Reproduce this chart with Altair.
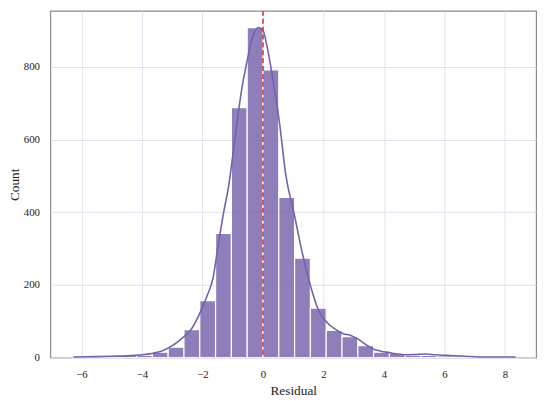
import altair as alt
import pandas as pd

# Histogram
bin_start = -6.27
bin_width = 0.5225
counts = [3, 4, 5, 6, 7, 15, 29, 77, 157, 342, 688, 908, 792, 441,
          274, 136, 75, 58, 33, 15, 12, 7, 6, 5, 4, 3, 2, 2]

# KDE curve points
kde_x = [-6.27, -5.5, -5.0, -4.5, -4.0, -3.6, -3.3, -3.0, -2.7, -2.4, -2.1,
         -1.85, -1.65, -1.5, -1.3, -1.14, -0.9, -0.7, -0.54, -0.35, -0.15,
         0.0, 0.15, 0.3, 0.54, 0.76, 1.03, 1.3, 1.57, 1.85, 2.1, 2.4, 2.66,
         2.88, 3.15, 3.4, 3.64, 3.9, 4.18, 4.45, 4.72, 5.05, 5.38, 5.7, 6.03,
         6.68, 7.44, 8.36]
kde_y = [2, 3, 4, 5, 8, 13, 20, 33, 52, 75, 120,
         170, 220, 300, 400, 470, 620, 740, 810, 880, 908,
         900, 850, 780, 650, 500, 396, 288, 198, 128, 98, 78, 66,
         62, 51, 36, 24, 18, 14, 10, 8, 9, 10, 8, 6.5,
         4, 2, 2]

x_ticks = [-6, -4, -2, 0, 2, 4, 6, 8]
y_ticks = [0, 200, 400, 600, 800]
x_domain = [-7.03, 9.03]
y_domain = [0, 954]

bars = pd.DataFrame({
    "start": [bin_start + i * bin_width for i in range(len(counts))],
    "end": [bin_start + (i + 1) * bin_width for i in range(len(counts))],
    "count": counts,
})
kde = pd.DataFrame({"x": kde_x, "y": kde_y})
zero = pd.DataFrame({"x": [0.0]})

FONT = "Liberation Serif"
xs = alt.Scale(domain=x_domain, nice=False, zero=False)
ys = alt.Scale(domain=y_domain, nice=False)

x_axis = alt.Axis(values=x_ticks, title="Residual", grid=True, ticks=False,
                  domain=False, labelPadding=11, titlePadding=4)
y_axis = alt.Axis(values=y_ticks, title="Count", grid=True, ticks=False,
                  domain=False, labelPadding=11, titlePadding=2)

bar_layer = alt.Chart(bars).mark_rect(
    color="#7862ad", opacity=0.82, stroke="white", strokeWidth=1.2
).encode(
    x=alt.X("start:Q", scale=xs, axis=x_axis),
    x2="end:Q",
    y=alt.Y("count:Q", scale=ys, axis=y_axis),
    y2=alt.datum(0),
)

line_layer = alt.Chart(kde).mark_line(
    color="#7560ad", strokeWidth=1.6, interpolate="monotone"
).encode(
    x=alt.X("x:Q", scale=xs),
    y=alt.Y("y:Q", scale=ys),
)

rule_layer = alt.Chart(zero).mark_rule(
    color="#c93a3a", strokeWidth=1.6, strokeDash=[5, 3]
).encode(x=alt.X("x:Q", scale=xs))

chart = alt.layer(bar_layer, line_layer, rule_layer).properties(
    width=493, height=352,
    background="white",
    autosize=alt.AutoSizeParams(type="none"),
    padding={"left": 43, "top": 0, "right": 6, "bottom": 41},
).configure_view(
    stroke="#8a8a8a", strokeWidth=1.2
).configure_axis(
    gridColor="#e2e2ee", gridWidth=1,
    labelFont=FONT, labelFontSize=11, labelColor="#222222",
    titleFont=FONT, titleFontSize=13.5, titleColor="#222222",
    titleFontWeight="normal",
)

chart.save("out.html", embed_options={"renderer": "svg", "actions": False})
